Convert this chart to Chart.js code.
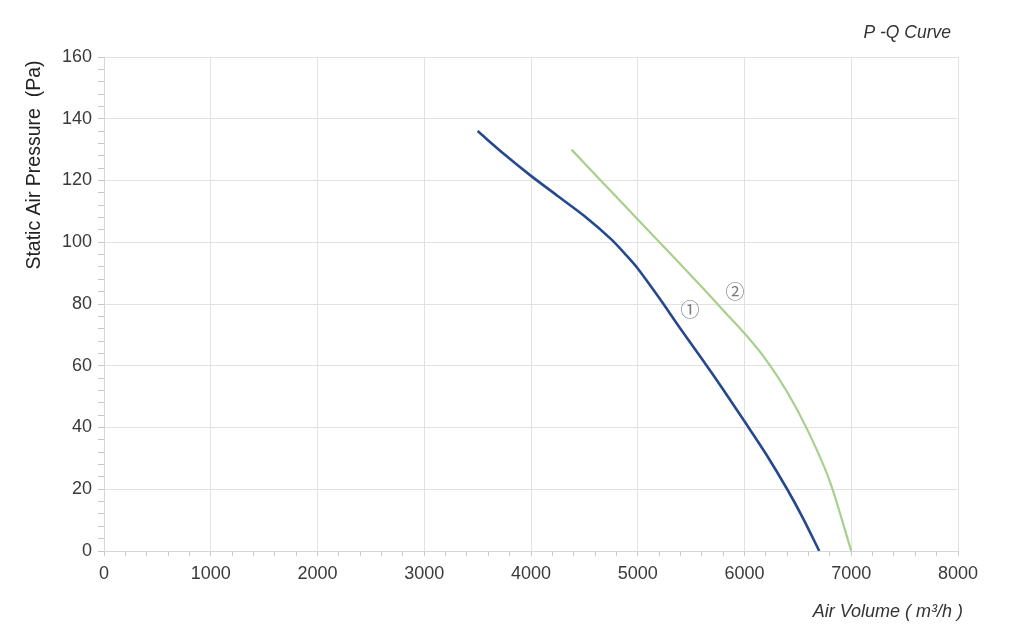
<!DOCTYPE html>
<html>
<head>
<meta charset="utf-8">
<script src="https://cdn.jsdelivr.net/npm/chart.js@4"></script>
<style>
  html, body { margin: 0; padding: 0; background: #fff; }
  #wrap { width: 1024px; height: 642px; }
</style>
</head>
<body>
<div id="wrap"><canvas id="pq"></canvas></div>
<script>
// curve 1 (blue)
const flow1 = [3500, 3750, 4000, 4250, 4500, 4750, 4900, 5000, 5200, 5400, 5600, 5800, 6000, 6200, 6400, 6550, 6700];
const pres1 = [136, 128.5, 121.5, 115, 108.5, 101, 95.5, 91.5, 82, 72, 62.3, 52.3, 42, 31.5, 20, 10.5, 0];
// curve 2 (green)
const flow2 = [4380, 4700, 5000, 5300, 5600, 5800, 6000, 6200, 6400, 6600, 6800, 7000];
const pres2 = [130, 118.3, 107.4, 96.5, 85.5, 78, 70.5, 62, 51.5, 38.5, 22.5, 0];
// curve markers
const markerText = ['①', '②'];
const markerFlow = [5490, 5910];
const markerPres = [78, 84];

const toPoints = (xs, ys) => xs.map((x, i) => ({ x, y: ys[i] }));

// extra texts: title, axis titles, curve markers
const textPlugin = {
    id: 'texts',
    afterDraw(chart) {
        const { ctx, chartArea, scales } = chart;
        ctx.save();
        ctx.fillStyle = '#333';
        ctx.textAlign = 'right';
        ctx.textBaseline = 'middle';
        ctx.font = 'italic 17.5px "Liberation Sans", Arial, sans-serif';
        ctx.fillText('P -Q Curve', chartArea.right - 7, 33);
        ctx.font = 'italic 18px "Liberation Sans", Arial, sans-serif';
        ctx.fillText('Air Volume ( m³/h )', chartArea.right + 5, 612);

        ctx.font = '19.5px "Liberation Sans", Arial, sans-serif';
        ctx.fillStyle = '#222';
        ctx.translate(35, 165);
        ctx.rotate(-Math.PI / 2);
        ctx.textAlign = 'center';
        ctx.fillText('Static Air Pressure  (Pa)', 0, 0);
        ctx.restore();

        ctx.save();
        ctx.fillStyle = '#7a7a7a';
        ctx.font = '19px "Noto Sans CJK SC", "DejaVu Sans", sans-serif';
        ctx.textAlign = 'center';
        ctx.textBaseline = 'middle';
        markerText.forEach((t, i) => {
            ctx.fillText(t, scales.x.getPixelForValue(markerFlow[i]), scales.y.getPixelForValue(markerPres[i]));
        });
        ctx.restore();
    }
};

const tickFont = { family: '"Liberation Sans", Arial, sans-serif', size: 18 };

new Chart(document.getElementById('pq'), {
    type: 'line',
    data: {
        datasets: [{
            data: toPoints(flow1, pres1),
            borderColor: '#25488e',
            borderWidth: 2.6,
            pointRadius: 0,
            tension: 0.3
        }, {
            data: toPoints(flow2, pres2),
            borderColor: '#a8cf8b',
            borderWidth: 2.2,
            pointRadius: 0,
            tension: 0.3
        }]
    },
    options: {
        responsive: true,
        maintainAspectRatio: false,
        animation: false,
        layout: { padding: { top: 57, right: 66, left: 0, bottom: 0 } },
        plugins: { legend: { display: false }, tooltip: { enabled: false } },
        scales: {
            x: {
                type: 'linear',
                min: 0, max: 8000,
                afterFit: s => { s.height = 91; },
                border: { color: '#d6d6d6' },
                grid: {
                    color: c => c.tick && c.tick.value % 1000 === 0 ? '#e2e2e2' : 'rgba(0,0,0,0)',
                    tickColor: '#c8c8c8',
                    tickLength: 5
                },
                ticks: {
                    stepSize: 200,
                    autoSkip: false,
                    maxRotation: 0,
                    padding: 7,
                    color: '#3a3a3a',
                    font: tickFont,
                    callback: v => v % 1000 === 0 ? String(v) : ''
                }
            },
            y: {
                min: 0, max: 160,
                afterFit: s => { s.width = 104; },
                border: { color: '#d6d6d6' },
                grid: {
                    color: c => c.tick && c.tick.value % 20 === 0 ? '#e2e2e2' : 'rgba(0,0,0,0)',
                    tickColor: '#c8c8c8',
                    tickLength: 6
                },
                ticks: {
                    stepSize: 4,
                    autoSkip: false,
                    padding: 6,
                    color: '#3a3a3a',
                    font: tickFont,
                    callback: v => v % 20 === 0 ? String(v) : ''
                }
            }
        }
    },
    plugins: [textPlugin]
});
</script>
</body>
</html>
